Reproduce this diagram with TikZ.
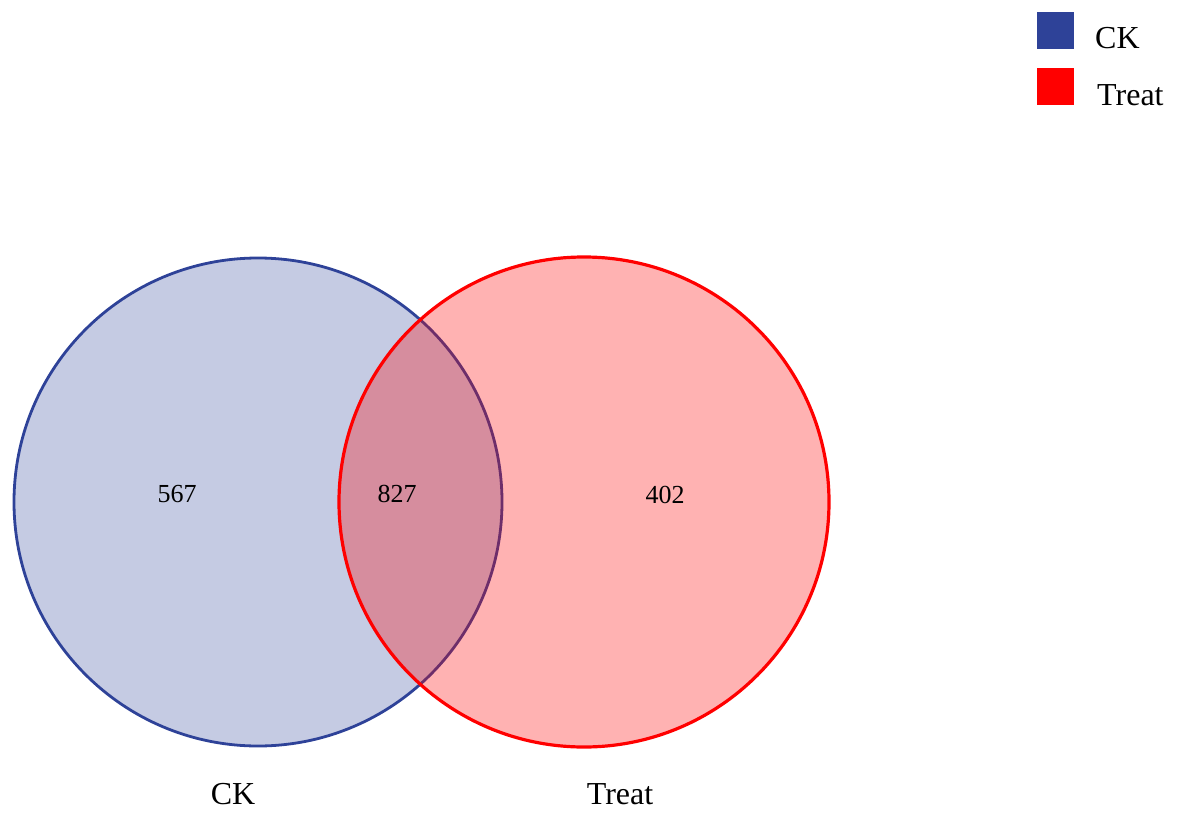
\documentclass[tikz,border=0pt]{standalone}
\usepackage{fontspec}
\setmainfont{Liberation Serif}
\definecolor{ckline}{RGB}{46,66,152}
\definecolor{ckfill}{RGB}{197,203,227}
\definecolor{trline}{RGB}{255,0,0}
\tikzset{
  setlabel/.style={font=\fontsize{32}{36}\selectfont, inner sep=0pt},
  countlabel/.style={font=\fontsize{26}{30}\selectfont, inner sep=0pt},
  legendbox/.style={minimum width=37pt, minimum height=37pt, inner sep=0pt},
}
\begin{document}
\begin{tikzpicture}[x=1pt,y=-1pt]
\useasboundingbox (0,0) rectangle (1182,821);
% CK circle
\fill[ckfill] (258,502) circle (244);
\draw[ckline, line width=2.8pt] (258,502) circle (244);
% Treat circle
\fill[trline, fill opacity=0.3] (584,502) circle (245);
\draw[trline, line width=3.2pt] (584,502) circle (245);
% counts
\node[countlabel] (a) at (177,494) {567};
\node[countlabel] (b) at (397,494) {827};
\node[countlabel] (c) at (665,495) {402};
% set labels
\node[setlabel] (ck) at (233,794) {CK};
\node[setlabel] (tr) at (620,794) {Treat};
% legend
\node[legendbox, fill=ckline] (lb) at (1055.5,31) {};
\node[legendbox, fill=trline] (lr) at (1055.5,87) {};
\node[setlabel, anchor=west] (lbt) at (1095,38) {CK};
\node[setlabel, anchor=west] (lrt) at (1097,95) {Treat};
\end{tikzpicture}
\end{document}
